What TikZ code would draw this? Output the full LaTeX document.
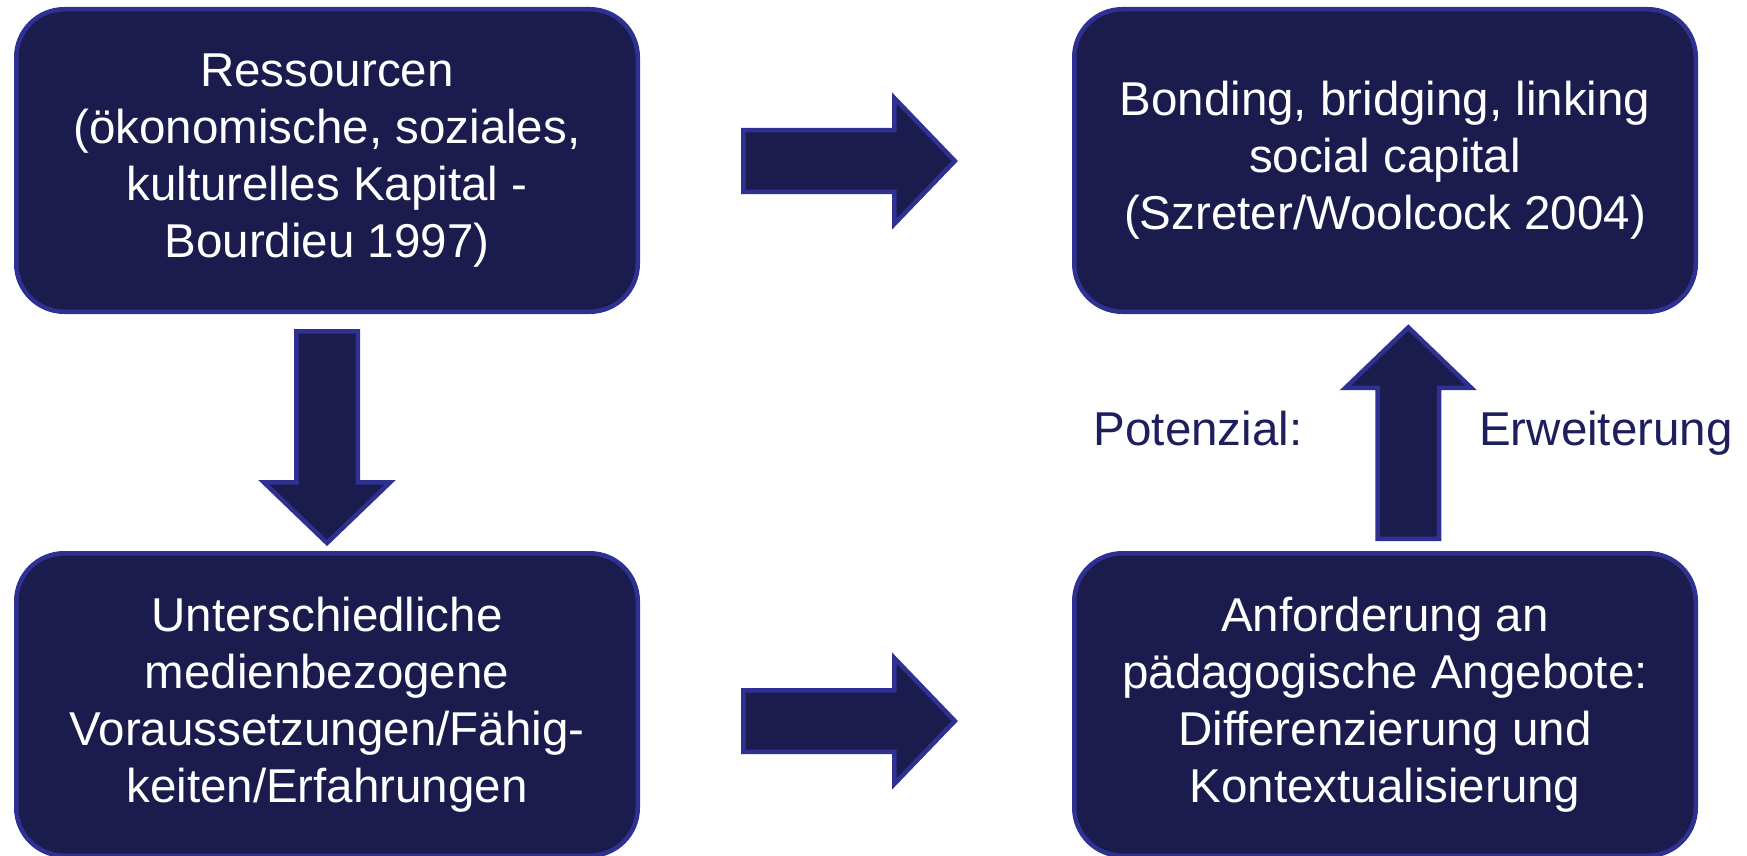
\documentclass[tikz,border=0pt]{standalone}
\usepackage{fontspec}
\setmainfont{Liberation Sans}
\definecolor{boxfill}{RGB}{28,27,78}
\definecolor{boxline}{RGB}{46,49,146}
\definecolor{labeltext}{RGB}{30,30,92}
\tikzset{
  box/.style={draw=boxline, fill=boxfill, line width=4.5pt, rounded corners=48pt,
    minimum width=621.5pt, minimum height=302.5pt, inner sep=0pt,
    align=center, text=white, font=\fontsize{47.5}{57}\selectfont},
  lbl/.style={text=labeltext, inner sep=0pt, anchor=base west, font=\fontsize{47.5}{57}\selectfont},
  blockarrow/.pic={
    \draw[draw=boxline, fill=boxfill, line width=4.5pt, line join=miter]
      (-106.25,-30.75) -- (44.75,-30.75) -- (44.75,-63) -- (105.3,0)
      -- (44.75,63) -- (44.75,30.75) -- (-106.25,30.75) -- cycle;
  }
}
\begin{document}
\begin{tikzpicture}[x=1pt,y=-1pt]
\useasboundingbox (0,0) rectangle (1747,856);
\node[box] (res) at (327,160.5) {Ressourcen\\(ökonomische, soziales,\\kulturelles Kapital -\\Bourdieu 1997)};
\node[box] (bond) at (1385,160.5) {Bonding, bridging, linking\\social capital\\(Szreter/Woolcock 2004)};
\node[box] (vor) at (327,704.5) {Unterschiedliche\\medienbezogene\\Voraussetzungen/Fähig-\\keiten/Erfahrungen};
\node[box] (anf) at (1385,704.5) {Anforderung an\\pädagogische Angebote:\\Differenzierung und\\Kontextualisierung};
\coordinate (a1) at (849.5,161);
\coordinate (a2) at (327,437.7);
\coordinate (a3) at (849.5,721);
\coordinate (a4) at (1408.3,432.7);
\pic at (a1) {blockarrow};
\pic[rotate=-90] at (a2) {blockarrow};
\pic at (a3) {blockarrow};
\pic[rotate=90] at (a4) {blockarrow};
\node[lbl] (pot) at (1093.5,445) {Potenzial:};
\node[lbl] (erw) at (1479,445) {Erweiterung};
\end{tikzpicture}
\end{document}
